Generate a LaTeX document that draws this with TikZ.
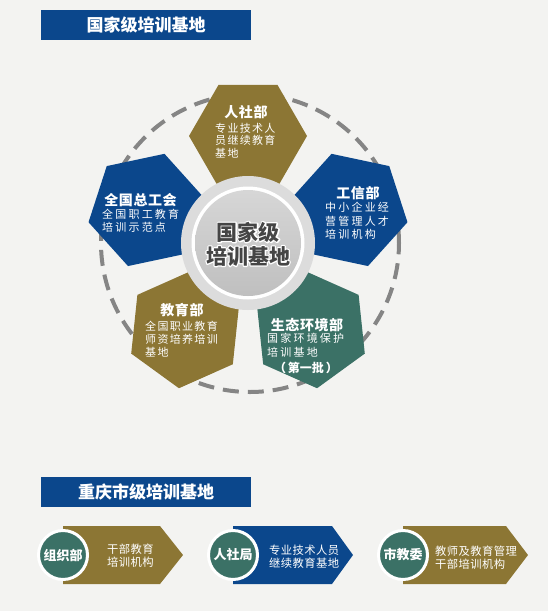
\documentclass[tikz,border=0pt]{standalone}
\usepackage{fontspec}
\newfontfamily\cjk{Noto Sans CJK SC}
\newfontfamily\cjkA[LetterSpace=12]{Noto Sans CJK SC}
\newfontfamily\cjkB[LetterSpace=20]{Noto Sans CJK SC}
\newfontfamily\cjkT[LetterSpace=4]{Noto Sans CJK SC}
\usetikzlibrary{calc}
\definecolor{bg}{HTML}{F3F3F1}
\definecolor{navy}{HTML}{0B478C}
\definecolor{gold}{HTML}{8C7634}
\definecolor{teal}{HTML}{3B7166}
\definecolor{dashgray}{HTML}{858585}
\definecolor{ringgray}{HTML}{DCDCDC}
\definecolor{ctextcol}{HTML}{454545}
\newcommand{\hexag}[4]{%
  \fill[#4] ($(#1)+(#2:#3)$) -- ($(#1)+(#2+60:#3)$) -- ($(#1)+(#2+120:#3)$)
    -- ($(#1)+(#2+180:#3)$) -- ($(#1)+(#2+240:#3)$) -- ($(#1)+(#2+300:#3)$) -- cycle;}
\newcommand{\itemarrow}[4]{% left x, notch x, tip x, colour
  \fill[#4] (#1,-526) -- (#2,-526) -- (#3,-555) -- (#2,-584) -- (#1,-584) -- cycle;}
\newcommand{\strokemode}{\special{pdf:literal direct 1 Tr 2.4 w 1 j 1 J}}
\begin{document}
\begin{tikzpicture}[x=1pt,y=1pt,
  bar/.style={fill=navy, text=white, minimum width=210pt, minimum height=30pt, inner sep=0,
    font=\cjk\bfseries\fontsize{17}{20}\selectfont},
  htitle/.style={text=white, inner sep=0, font=\cjkT\bfseries\fontsize{14}{16}\selectfont},
  hbody/.style={text=white, inner sep=0, anchor=west, align=left},
  ctxt/.style={align=center, inner sep=0, font=\cjk\bfseries\fontsize{21}{24}\selectfont},
  circ/.style={circle, fill=teal, draw=white, line width=3pt, minimum size=49pt, inner sep=0,
    text=white, font=\cjk\bfseries\fontsize{13}{15}\selectfont},
  itemtxt/.style={text=white, inner sep=0, anchor=west, align=left,
    font=\cjkT\fontsize{11.3}{13}\selectfont},
  dashcirc/.style={draw=dashgray, line width=4pt, dash pattern=on 16pt off 9pt}]
\fill[bg] (0,0) rectangle (548,-611);
\useasboundingbox (0,0) rectangle (548,-611);

% titles
\node[bar] (t1) at (146,-25) {国家级培训基地};
\node[bar] (t2) at (146,-492) {重庆市级培训基地};

% circle diagram
\coordinate (cc) at (248,-243);
\draw[dashcirc] (250,-243) circle (149pt);
\coordinate (h1) at ($(cc)+(90:107)$);
\coordinate (h2) at ($(cc)+(18:107)$);
\coordinate (h3) at ($(cc)+(162:107)$);
\coordinate (h4) at ($(cc)+(-126:107)$);
\coordinate (h5) at ($(cc)+(-54:107)$);
\hexag{h1}{0}{59}{gold}
\hexag{h2}{-12}{59}{navy}
\hexag{h3}{12}{59}{navy}
\hexag{h4}{24}{59}{gold}
\hexag{h5}{-24}{59}{teal}

\fill[ringgray] (cc) circle (67pt);
\fill[white] (cc) circle (56.5pt);
\shade[top color=black!16, bottom color=black!25] (cc) circle (53pt);
\node[ctxt, text=white] (centerglow) at (248,-244) {\strokemode 国家级\\\strokemode 培训基地};
\node[ctxt, text=ctextcol] (center) at (248,-244) {国家级\\培训基地};

% hexagon texts
\node[htitle] (n1) at (246,-112) {人社部};
\node[hbody, font=\cjkA\fontsize{11}{12.5}\selectfont] (b1) at (215,-140.5) {专业技术人\\员继续教育\\基地};
\node[htitle] (n2) at (358,-193) {工信部};
\node[hbody, font=\cjkB\fontsize{11}{13.5}\selectfont] (b2) at (325,-221) {中小企业经\\营管理人才\\培训机构};
\node[htitle] (n3) at (140.5,-200) {全国总工会};
\node[hbody, font=\cjkB\fontsize{11}{13}\selectfont] (b3) at (102,-220.5) {全国职工教育\\培训示范点};
\node[htitle] (n4) at (182,-310) {教育部};
\node[hbody, font=\cjkA\fontsize{11}{13}\selectfont] (b4) at (145,-339) {全国职业教育\\师资培养培训\\基地};
\node[htitle] (n5) at (307,-325) {生态环境部};
\node[hbody, font=\cjkB\fontsize{11}{14}\selectfont] (b5) at (267,-345) {国家环境保护\\培训基地};
\node[text=white, inner sep=0, font=\cjk\bfseries\fontsize{12}{14}\selectfont] (b5x) at (306,-368)
  {（\hspace{2pt}第一批\hspace{2pt}）};

% bottom items
\itemarrow{63}{160}{183}{gold}
\itemarrow{233}{332}{353}{navy}
\itemarrow{403}{506}{528}{gold}
\node[circ] (c1) at (63,-555) {组织部};
\node[circ] (c2) at (233,-555) {人社局};
\node[circ] (c3) at (403,-555) {市教委};
\node[itemtxt] (i1) at (107,-556) {干部教育\\培训机构};
\node[itemtxt] (i2) at (269,-557) {专业技术人员\\继续教育基地};
\node[itemtxt] (i3) at (435,-557.5) {教师及教育管理\\干部培训机构};
\end{tikzpicture}
\end{document}
